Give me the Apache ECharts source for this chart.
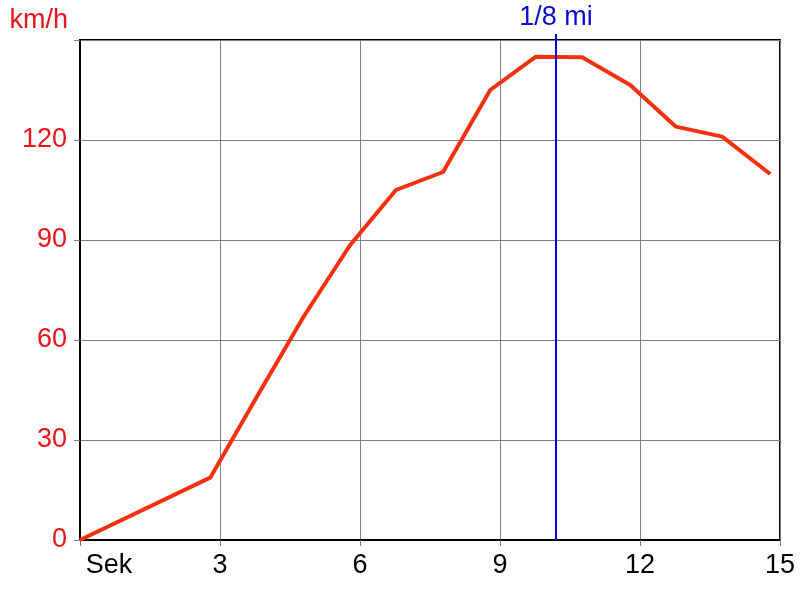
<!DOCTYPE html>
<html>
<head>
<meta charset="utf-8">
<script src="https://cdn.jsdelivr.net/npm/echarts@6/dist/echarts.min.js"></script>
<style>html,body{margin:0;padding:0;background:#fff}#c{width:800px;height:600px}</style>
</head>
<body>
<div id="c"></div>
<script>
var timeSec = [0, 2.79, 3.79, 4.8, 5.79, 6.77, 7.78, 8.79, 9.77, 10.76, 11.79, 12.77, 13.76, 14.79];
var speedKmh = [0, 18.7, 43, 67.2, 88.5, 105, 110.4, 135, 145, 144.8, 136.5, 124, 121, 109.8];
var markerTime = 10.2;
var markerLabel = '1/8 mi';
var xTickLabels = {0: 'Sek', 3: '3', 6: '6', 9: '9', 12: '12', 15: '15'};
var yTickLabels = {0: '0', 30: '30', 60: '60', 90: '90', 120: '120', 150: ''};

var FONT = 'Liberation Sans, Arial, sans-serif';
var FS = 27;
var RED = '#e8141c';
var BLUE = '#0a0ad0';
var chart = echarts.init(document.getElementById('c'));
chart.setOption({
  animation: false,
  backgroundColor: '#fff',
  grid: {left: 80, right: 20, top: 40, bottom: 60, show: true, borderColor: '#000', borderWidth: 2, backgroundColor: 'transparent'},
  xAxis: {
    type: 'value', min: 0, max: 15, interval: 3,
    axisLine: {show: true, lineStyle: {color: '#000', width: 2}},
    axisTick: {show: true, length: 6, lineStyle: {color: '#808080', width: 1}},
    splitLine: {show: true, lineStyle: {color: '#808080', width: 1}},
    axisLabel: {
      color: '#000', fontFamily: FONT, fontSize: FS, margin: 12,
      formatter: function (v) { return v === 0 ? '{s|Sek}' : (xTickLabels[v] || ''); },
      rich: {s: {fontFamily: FONT, fontSize: FS, color: '#000', padding: [0, 0, 0, 58]}}
    }
  },
  yAxis: {
    type: 'value', min: 0, max: 150, interval: 30,
    name: 'km/h', nameLocation: 'end', nameGap: 6,
    nameTextStyle: {color: RED, fontFamily: FONT, fontSize: FS, align: 'right', padding: [0, 12, 0, 0]},
    axisLine: {show: true, lineStyle: {color: '#000', width: 2}},
    axisTick: {show: true, length: 6, lineStyle: {color: '#808080', width: 1}},
    splitLine: {show: true, lineStyle: {color: '#808080', width: 1}},
    axisLabel: {
      color: RED, fontFamily: FONT, fontSize: FS, margin: 13,
      formatter: function (v) { return yTickLabels[v] !== undefined ? yTickLabels[v] : ''; }
    }
  },
  series: [
    {
      type: 'line',
      data: timeSec.map(function (t, i) { return [t, speedKmh[i]]; }),
      showSymbol: false, symbol: 'none',
      lineStyle: {color: '#f5300f', width: 4},
      z: 3
    },
    {
      type: 'line',
      clip: false,
      data: [
        {value: [markerTime, 0], label: {show: false}},
        {value: [markerTime, 151.8], label: {show: true, position: 'top', distance: 3, formatter: markerLabel, color: BLUE, fontFamily: FONT, fontSize: FS}}
      ],
      showSymbol: true, symbol: 'circle', symbolSize: 0.01,
      itemStyle: {color: BLUE},
      lineStyle: {color: BLUE, width: 2},
      z: 4
    }
  ]
});
</script>
</body>
</html>
